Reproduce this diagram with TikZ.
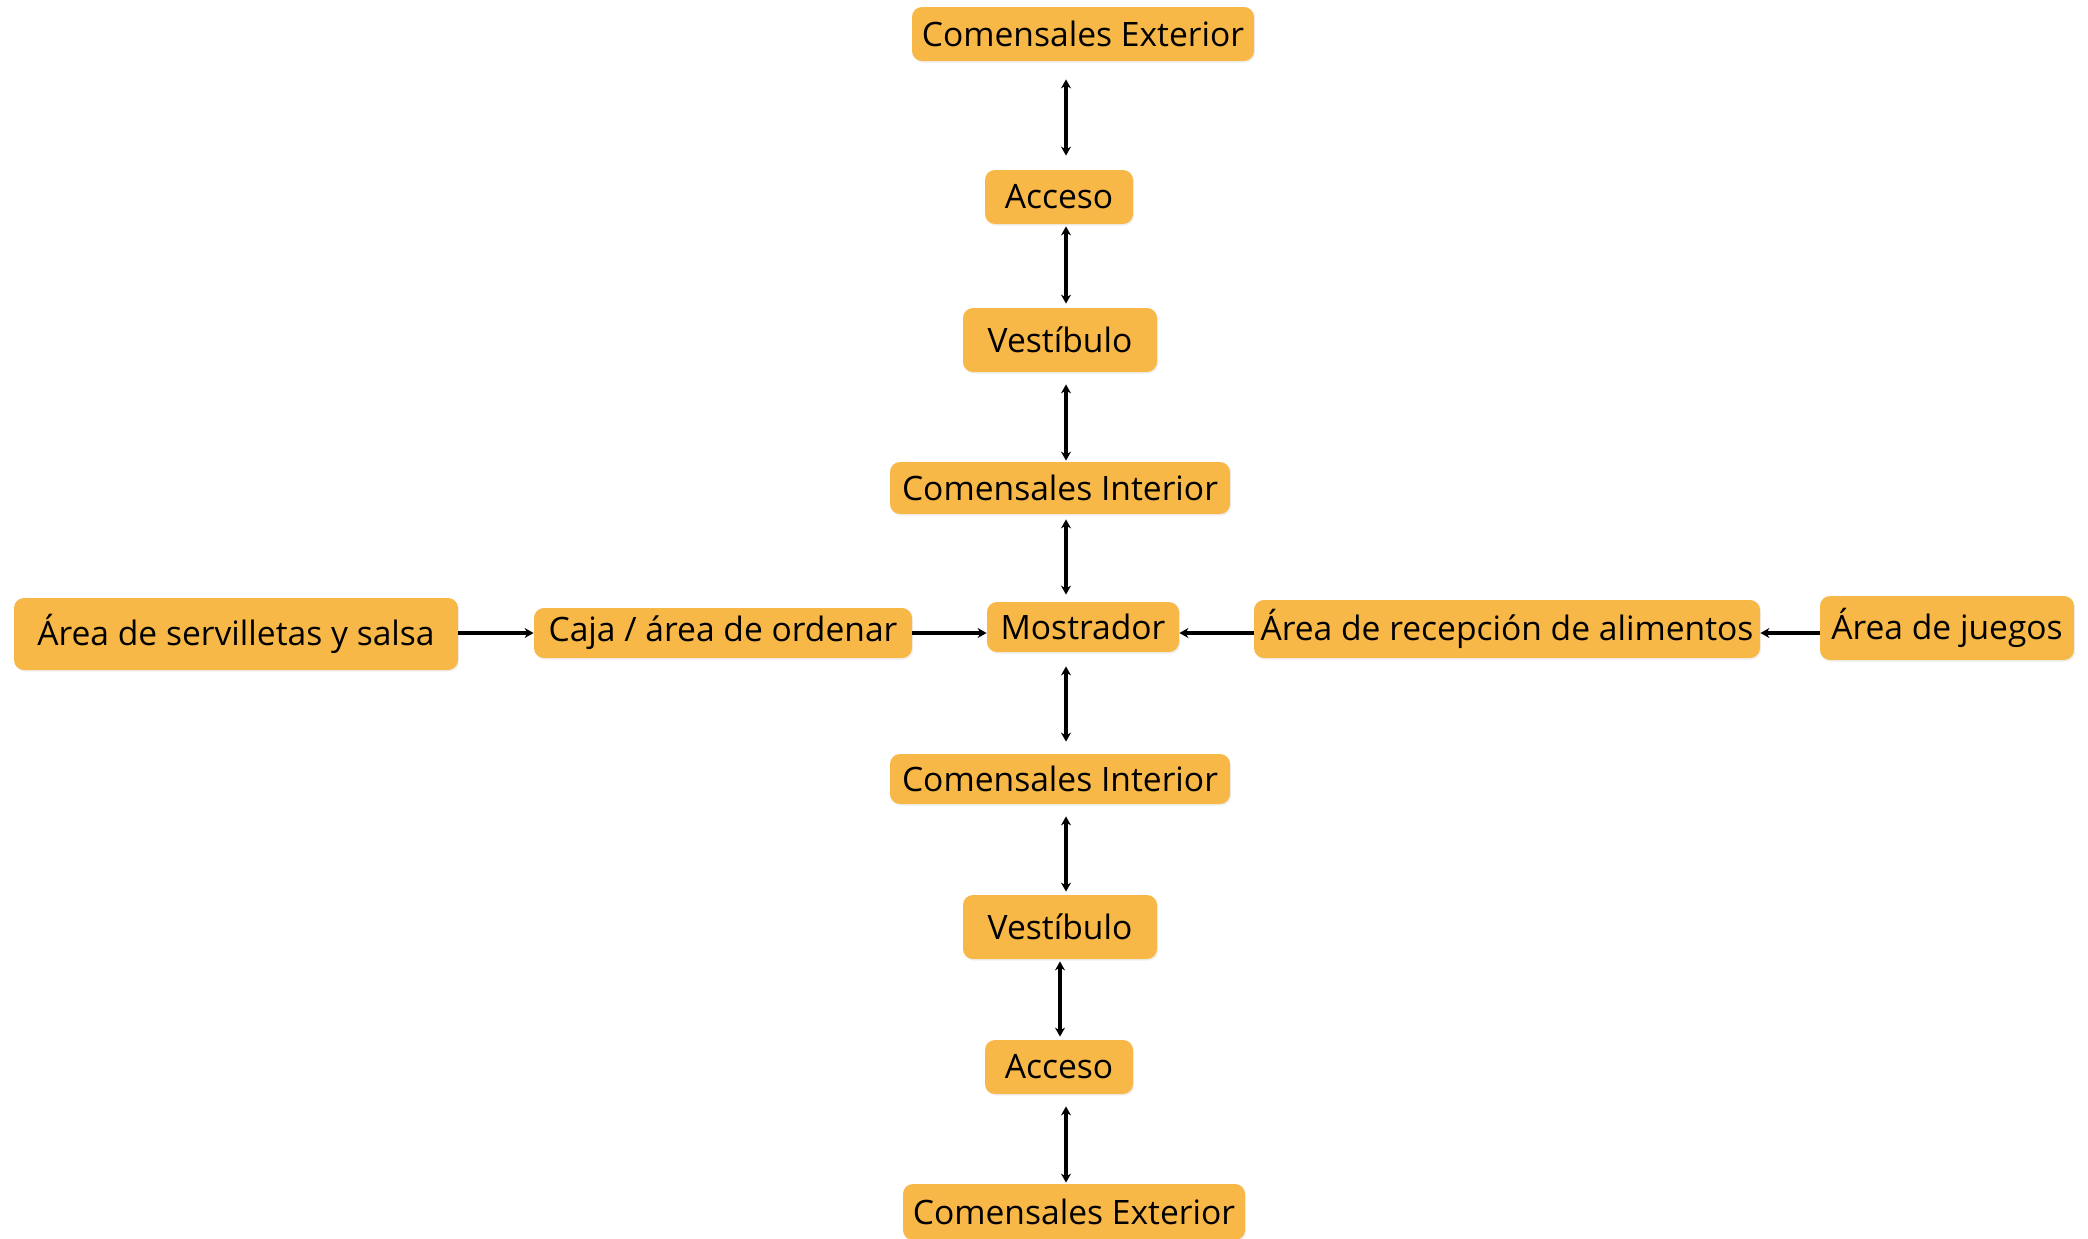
\documentclass[tikz,border=0pt]{standalone}
\usepackage{fontspec}
\setmainfont{Open Sans}
\usetikzlibrary{arrows.meta,shadows}
\definecolor{boxfill}{HTML}{F8B848}
\tikzset{
  box/.style={fill=boxfill, rounded corners=5pt, inner sep=0pt, align=center,
    font=\fontsize{16.8}{20}\selectfont, text=black,
    drop shadow={opacity=0.12, shadow xshift=0.6pt, shadow yshift=-0.8pt}},
  dbl/.style={line width=1.7pt, {Stealth[length=4.5pt,width=5pt]}-{Stealth[length=4.5pt,width=5pt]}},
  one/.style={line width=1.7pt, -{Stealth[length=4.5pt,width=5pt]}}
}
\begin{document}
\begin{tikzpicture}[x=0.5pt,y=-0.5pt]
\useasboundingbox[fill=white] (0,0) rectangle (2088,1238);
\node[box, minimum width=171pt, minimum height=27pt] (ce1) at (1083,34) {Comensales Exterior};
\node[box, minimum width=74pt, minimum height=27pt] (ac1) at (1059,197) {Acceso};
\node[box, minimum width=97pt, minimum height=32pt] (ve1) at (1060,340) {Vestíbulo};
\node[box, minimum width=170pt, minimum height=26pt] (ci1) at (1060,488) {Comensales Interior};
\node[box, minimum width=96pt, minimum height=25pt] (mo) at (1083,627) {Mostrador};
\node[box, minimum width=222pt, minimum height=36pt] (se) at (236,634) {Área de servilletas y salsa};
\node[box, minimum width=189pt, minimum height=25pt] (ca) at (723,633) {Caja / área de ordenar};
\node[box, minimum width=253pt, minimum height=29pt] (re) at (1507,629) {Área de recepción de alimentos};
\node[box, minimum width=127pt, minimum height=32pt] (ju) at (1947,628) {Área de juegos};
\node[box, minimum width=170pt, minimum height=25pt] (ci2) at (1060,779) {Comensales Interior};
\node[box, minimum width=97pt, minimum height=32pt] (ve2) at (1060,927) {Vestíbulo};
\node[box, minimum width=74pt, minimum height=27pt] (ac2) at (1059,1067) {Acceso};
\node[box, minimum width=171pt, minimum height=28pt] (ce2) at (1074,1212) {Comensales Exterior};
\coordinate (sp) at (1066,0);
\coordinate (sp2) at (1060,0);
\draw[dbl, shorten <=9pt, shorten >=7pt] (ce1.south -| sp) -- (ac1.north -| sp);
\draw[dbl, shorten <=1pt, shorten >=2pt] (ac1.south -| sp) -- (ve1.north -| sp);
\draw[dbl, shorten <=6pt, shorten >=0.5pt] (ve1.south -| sp) -- (ci1.north -| sp);
\draw[dbl, shorten <=2.5pt, shorten >=3.5pt] (ci1.south -| sp) -- (mo.north -| sp);
\draw[dbl, shorten <=7pt, shorten >=6pt] (mo.south -| sp) -- (ci2.north -| sp);
\draw[dbl, shorten <=6pt, shorten >=1.5pt] (ci2.south -| sp) -- (ve2.north -| sp);
\draw[dbl, shorten <=1pt, shorten >=1.5pt] (ve2.south -| sp2) -- (ac2.north -| sp2);
\draw[dbl, shorten <=6pt, shorten >=0.5pt] (ac2.south -| sp) -- (ce2.north -| sp);
\draw[one] (se.east |- ca.west) -- (ca.west);
\draw[one] (ca.east) -- (mo.west |- ca.east);
\draw[one] (re.west |- ca.east) -- (mo.east |- ca.east);
\draw[one] (ju.west |- ca.east) -- (re.east |- ca.east);
\end{tikzpicture}
\end{document}
